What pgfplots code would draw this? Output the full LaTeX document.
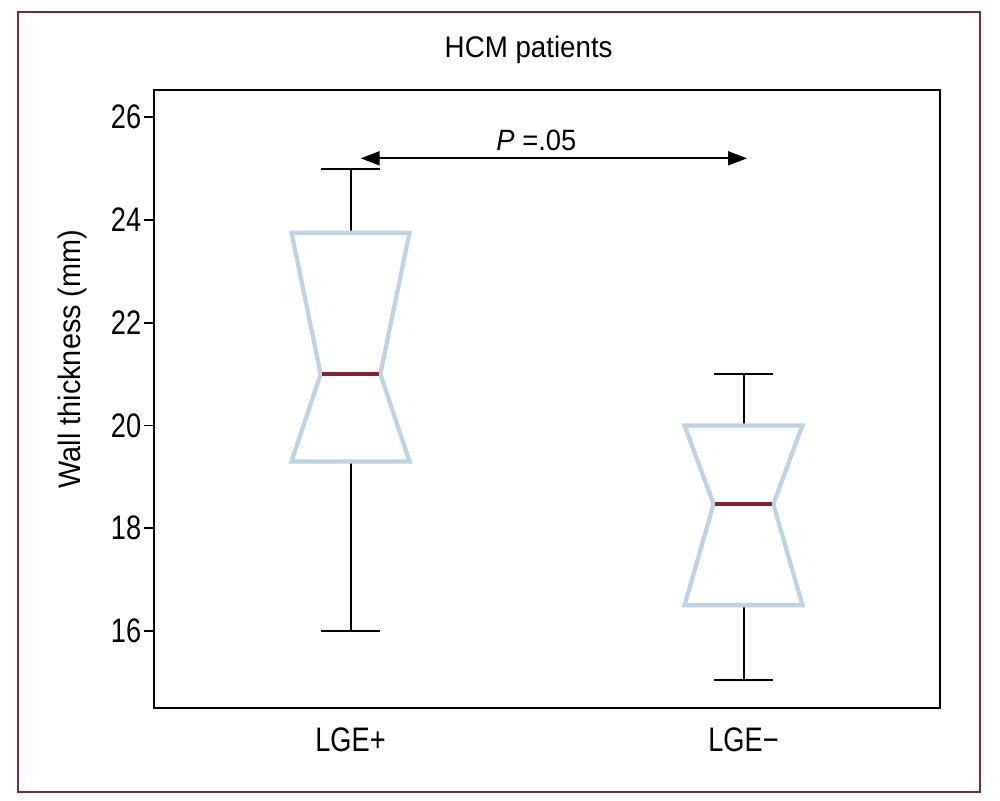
\documentclass[border=0pt]{standalone}
\usepackage{pgfplots}
\pgfplotsset{compat=1.18}
\usetikzlibrary{arrows.meta}
\usepackage{fontspec}
\setmainfont{Liberation Sans}[FakeStretch=0.93]
\newfontfamily\condfont{Liberation Sans}[FakeStretch=0.8]
\definecolor{boxblue}{RGB}{190,211,229}
\definecolor{medred}{RGB}{139,30,50}
\definecolor{framered}{RGB}{115,45,65}

\begin{document}
\begin{tikzpicture}
\path[fill=white] (0pt,0pt) rectangle (500pt,-400pt);
\draw[framered, line width=1.3pt] (9pt,-6pt) rectangle (490pt,-396pt);
\begin{axis}[
  at={(77pt,-354pt)}, anchor=south west,
  scale only axis, width=393pt, height=309pt,
  xmin=0.5, xmax=2.5, ymin=14.5, ymax=26.53,
  xtick={1,2}, xticklabels={LGE+, LGE−},
  ytick={16,18,20,22,24,26},
  ytick pos=left,
  tick align=outside,
  major tick length=5pt,
  xtick style={draw=none},
  ytick style={line width=0.9pt, black},
  axis line style={line width=1.1pt},
  /pgf/number format/assume math mode=true,
  ticklabel style={font=\condfont\fontsize{17}{18}\selectfont},
  yticklabel style={inner sep=0pt, xshift=-1.2pt},
  xticklabel style={inner sep=0pt, yshift=-4.5pt},
  title={HCM patients},
  title style={at={(0.4767,1)}, anchor=base, yshift=10.25pt, font=\fontsize{14.9}{16}\selectfont, inner sep=0pt},
  ylabel={Wall thickness (mm)},
  ylabel style={at={(axis description cs:-0.1043,0.5647)}, anchor=center, font=\fontsize{15.5}{17}\selectfont, inner sep=0pt},
  clip=false,
]
% whiskers LGE+
\addplot[black, line width=1pt] coordinates {(1,23.75) (1,25)};
\addplot[black, line width=1pt] coordinates {(0.924,25) (1.076,25)};
\addplot[black, line width=1pt] coordinates {(1,19.3) (1,16)};
\addplot[black, line width=1pt] coordinates {(0.924,16) (1.076,16)};
% whiskers LGE-
\addplot[black, line width=1pt] coordinates {(2,20) (2,21)};
\addplot[black, line width=1pt] coordinates {(1.924,21) (2.076,21)};
\addplot[black, line width=1pt] coordinates {(2,16.5) (2,15.05)};
\addplot[black, line width=1pt] coordinates {(1.924,15.05) (2.076,15.05)};
% notched boxes
\addplot[draw=boxblue, fill=white, line width=2.1pt, line join=miter] coordinates {(0.85,23.75) (1.15,23.75) (1.076,21) (1.15,19.3) (0.85,19.3) (0.924,21)} -- cycle;
\addplot[draw=boxblue, fill=white, line width=2.1pt, line join=miter] coordinates {(1.85,20) (2.15,20) (2.076,18.47) (2.15,16.5) (1.85,16.5) (1.924,18.47)} -- cycle;
% medians
\addplot[medred, line width=2.2pt] coordinates {(0.927,21) (1.073,21)};
\addplot[medred, line width=2.2pt] coordinates {(1.927,18.47) (2.073,18.47)};
% significance arrow
\addplot[black, line width=1pt, {Triangle[length=9.5pt,width=7pt]}-{Triangle[length=9.5pt,width=7pt]}] coordinates {(1.026,25.2) (2.009,25.2)};
\node[anchor=base, inner sep=0pt, font=\fontsize{14.7}{16}\selectfont] at (axis cs:1.473,25.345) {\textit{P} =.05};
\end{axis}
\end{tikzpicture}
\end{document}
